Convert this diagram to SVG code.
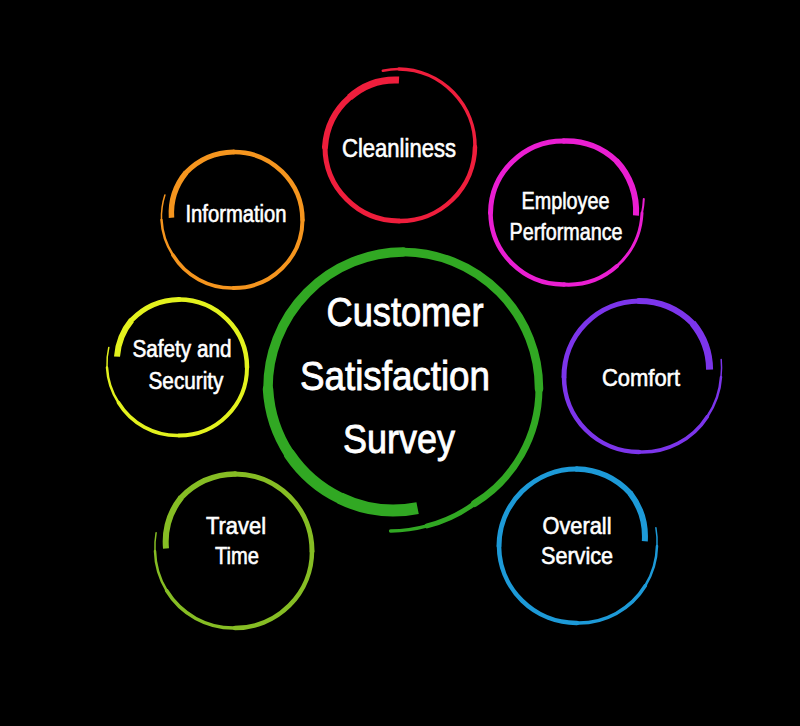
<svg xmlns="http://www.w3.org/2000/svg" width="800" height="726" viewBox="0 0 800 726">
<style>
.ring path{fill:none;stroke-linecap:round}
.ring path.s{stroke-linecap:butt}
.red{stroke:#ef1e3c}.mag{stroke:#ea1ed2}.pur{stroke:#7c35eb}.blu{stroke:#1d9ad8}
.lim{stroke:#86bd24}.yel{stroke:#e3f21e}.ora{stroke:#f5951e}.grn{stroke:#31a823}
text{font-family:"Liberation Sans",Arial,sans-serif;fill:#fff;stroke:#fff;stroke-width:0.6;text-anchor:middle}
.t{font-size:24px}.big{font-size:41.5px;stroke-width:0.9}
</style>
<rect width="800" height="726" fill="#000"/>

<g id="node-center">
<g class="ring grn">
<path class="s" d="M417.6,508.1 A123,123 0 0 1 340,498.1" stroke-width="12"/>
<path d="M340,498.1 A128.5,128.5 0 0 1 289.6,454.5" stroke-width="11.5"/>
<path d="M289.6,454.5 A133,133 0 0 1 268,389" stroke-width="10.5"/>
<path d="M268,389 A136,136 0 0 1 403,252" stroke-width="9.5"/>
<path d="M403,252 A136.5,136.5 0 0 1 539,389" stroke-width="8.5"/>
<path d="M539,389 A135.5,135.5 0 0 1 474.5,503.5" stroke-width="7"/>
<path d="M474.5,503.5 A137,137 0 0 1 427.1,525.9" stroke-width="5"/>
<path d="M427.1,525.9 A141,141 0 0 1 390.6,531" stroke-width="3.5"/>
</g>
<text class="big" x="405" y="326" textLength="157" lengthAdjust="spacingAndGlyphs">Customer</text>
<text class="big" x="395" y="390" textLength="190" lengthAdjust="spacingAndGlyphs">Satisfaction</text>
<text class="big" x="399" y="453" textLength="112" lengthAdjust="spacingAndGlyphs">Survey</text>
</g>

<g id="node-cleanliness">
<g class="ring red">
<path class="s" d="M399,80 A68.5,68.5 0 0 0 349.5,97.5" stroke-width="7"/>
<path d="M349.5,97.5 A72,72 0 0 0 325,147" stroke-width="6"/>
<path d="M325,147 A74,74 0 0 0 399,221" stroke-width="5"/>
<path d="M399,221 A75,75 0 0 0 475,147" stroke-width="4.5"/>
<path d="M475,147 A77,77 0 0 0 399,69" stroke-width="3.5"/>
<path d="M399,69 A78,78 0 0 0 382.8,70.7" stroke-width="2.5"/>
</g>
<text class="t" style="font-size:25px" x="399" y="157" textLength="114" lengthAdjust="spacingAndGlyphs">Cleanliness</text>
</g>

<g id="node-employee-performance">
<g class="ring mag">
<path class="s" d="M635.96,215.5 A73,73 0 0 0 616.3,160.7" stroke-width="6"/>
<path d="M616.3,160.7 A73,73 0 0 0 564,141" stroke-width="5.5"/>
<path d="M564,141 A72.75,72.75 0 0 0 490.5,213" stroke-width="5"/>
<path d="M490.5,213 A72.5,72.5 0 0 0 564,284.5" stroke-width="4.5"/>
<path d="M564,284.5 A73.25,73.25 0 0 0 617,266" stroke-width="4"/>
<path d="M617,266 A76.5,76.5 0 0 0 642,213" stroke-width="3"/>
<path d="M642,213 A79.5,79.5 0 0 0 643.8,198.9" stroke-width="2"/>
</g>
<text class="t" x="565.5" y="209" textLength="88" lengthAdjust="spacingAndGlyphs">Employee</text>
<text class="t" x="566" y="240" textLength="113" lengthAdjust="spacingAndGlyphs">Performance</text>
</g>

<g id="node-comfort">
<g class="ring pur">
<path class="s" d="M709.6,369.6 A73.5,73.5 0 0 0 692.7,323.3" stroke-width="7"/>
<path d="M692.7,323.3 A76,76 0 0 0 639,301" stroke-width="6"/>
<path d="M639,301 A75.5,75.5 0 0 0 564,377" stroke-width="5"/>
<path d="M564,377 A75,75 0 0 0 639,452" stroke-width="4.5"/>
<path d="M639,452 A77,77 0 0 0 707.4,416.5" stroke-width="3.5"/>
<path d="M707.4,416.5 A80.5,80.5 0 0 0 721,377" stroke-width="2.5"/>
<path d="M721,377 A83,83 0 0 0 721.2,359.5" stroke-width="1.5"/>
</g>
<text class="t" style="font-size:24.5px" x="641" y="386" textLength="78" lengthAdjust="spacingAndGlyphs">Comfort</text>
</g>

<g id="node-overall-service">
<g class="ring blu">
<path class="s" d="M644.8,541.3 A71.5,71.5 0 0 0 630,493" stroke-width="6"/>
<path d="M630,493 A76,76 0 0 0 577,469" stroke-width="5.5"/>
<path d="M577,469 A77.5,77.5 0 0 0 499,546" stroke-width="5"/>
<path d="M499,546 A77.5,77.5 0 0 0 577,623" stroke-width="4.5"/>
<path d="M577,623 A78,78 0 0 0 645.4,585.5" stroke-width="3.5"/>
<path d="M645.4,585.5 A79.5,79.5 0 0 0 657,546" stroke-width="2.5"/>
<path d="M657,546 A80.5,80.5 0 0 0 655.9,527.8" stroke-width="1.5"/>
</g>
<text class="t" x="577" y="534" textLength="69" lengthAdjust="spacingAndGlyphs">Overall</text>
<text class="t" x="577" y="563.5" textLength="72" lengthAdjust="spacingAndGlyphs">Service</text>
</g>

<g id="node-travel-time">
<g class="ring lim">
<path class="s" d="M166,548.6 A72.5,72.5 0 0 1 181.3,497.3" stroke-width="6"/>
<path d="M181.3,497.3 A76.5,76.5 0 0 1 235,474" stroke-width="5.5"/>
<path d="M235,474 A77,77 0 0 1 312,551" stroke-width="5"/>
<path d="M312,551 A77,77 0 0 1 235,628" stroke-width="4.5"/>
<path d="M235,628 A78,78 0 0 1 166.6,590.5" stroke-width="3.5"/>
<path d="M166.6,590.5 A79.5,79.5 0 0 1 155,551" stroke-width="2.5"/>
<path d="M155,551 A80.5,80.5 0 0 1 156.1,532.8" stroke-width="1.5"/>
</g>
<text class="t" x="236" y="534" textLength="60" lengthAdjust="spacingAndGlyphs">Travel</text>
<text class="t" x="237" y="563.5" textLength="44" lengthAdjust="spacingAndGlyphs">Time</text>
</g>

<g id="node-safety-security">
<g class="ring yel">
<path class="s" d="M117,356.6 A65,65 0 0 1 131.6,320.1" stroke-width="6"/>
<path d="M131.6,320.1 A67.5,67.5 0 0 1 179,299.5" stroke-width="5"/>
<path d="M179,299.5 A68,68 0 0 1 247,367.5" stroke-width="4.5"/>
<path d="M247,367.5 A68,68 0 0 1 179,435.5" stroke-width="4"/>
<path d="M179,435.5 A69,69 0 0 1 118.4,402.5" stroke-width="3.5"/>
<path d="M118.4,402.5 A71,71 0 0 1 107,367.5" stroke-width="2.5"/>
<path d="M107,367.5 A72.5,72.5 0 0 1 108.8,347.4" stroke-width="1.5"/>
</g>
<text class="t" style="font-size:23.5px" x="182" y="357" textLength="99" lengthAdjust="spacingAndGlyphs">Safety and</text>
<text class="t" style="font-size:23.5px" x="186" y="388.5" textLength="75" lengthAdjust="spacingAndGlyphs">Security</text>
</g>

<g id="node-information">
<g class="ring ora">
<path class="s" d="M171.5,217.8 A64.5,64.5 0 0 1 186.1,172.6" stroke-width="5.5"/>
<path d="M186.1,172.6 A67.5,67.5 0 0 1 233.5,152" stroke-width="5"/>
<path d="M233.5,152 A68.5,68.5 0 0 1 302.5,220" stroke-width="4.5"/>
<path d="M302.5,220 A68.5,68.5 0 0 1 233.5,288" stroke-width="4"/>
<path d="M233.5,288 A69,69 0 0 1 172.9,255" stroke-width="3.5"/>
<path d="M172.9,255 A71,71 0 0 1 161.5,220" stroke-width="2.5"/>
<path d="M161.5,220 A72.5,72.5 0 0 1 164.9,195" stroke-width="1.5"/>
</g>
<text class="t" style="font-size:23.5px" x="236" y="222" textLength="101" lengthAdjust="spacingAndGlyphs">Information</text>
</g>
</svg>
